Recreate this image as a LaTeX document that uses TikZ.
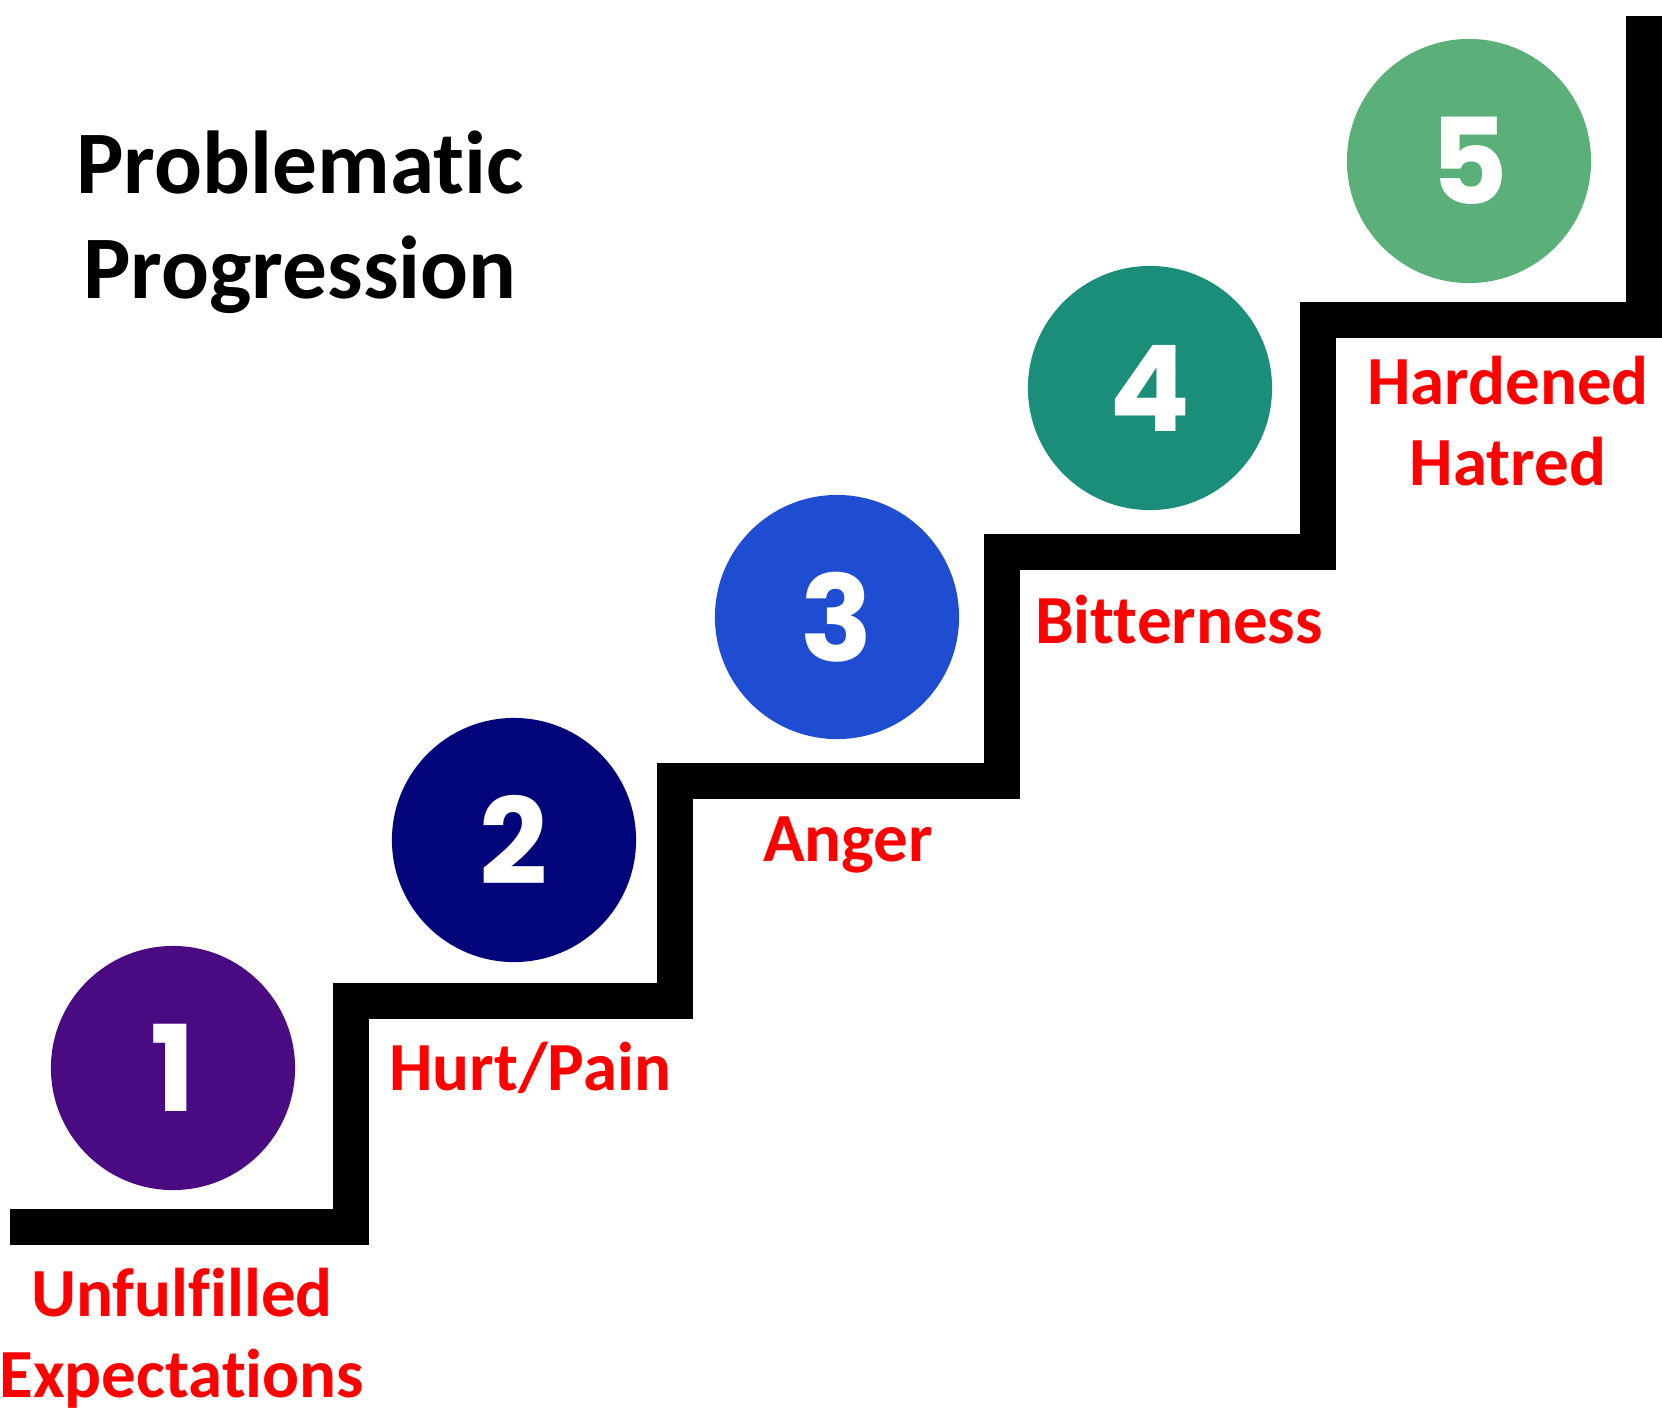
\documentclass[tikz,border=0pt]{standalone}
\usepackage{fontspec}
\setmainfont{Carlito}[Ligatures=NoCommon]
\newfontfamily\digitfont{Poppins}
\usetikzlibrary{positioning}
\definecolor{stepone}{HTML}{4A0A82}
\definecolor{steptwo}{HTML}{02057A}
\definecolor{stepthree}{HTML}{1E4DD2}
\definecolor{stepfour}{HTML}{1B8E7A}
\definecolor{stepfive}{HTML}{5BB07A}
\tikzstyle{stair}=[line width=0.36cm, line join=miter]
\tikzstyle{stepnum}=[circle, minimum size=2.44cm, inner sep=0pt, text=white, font=\digitfont\bfseries\fontsize{34}{34}\selectfont]
\tikzstyle{steplabel}=[text=red, align=center, font=\bfseries\fontsize{19.6}{23}\selectfont]
\tikzstyle{titlenode}=[align=center, font=\bfseries\fontsize{25.4}{30}\selectfont]

\begin{document}
\begin{tikzpicture}[x=0.01cm,y=-0.01cm]
\useasboundingbox (0,0) rectangle (1662,1411);
% corners of the stairs
\coordinate (c0) at (10,1227);
\coordinate (c1) at (351,1227);
\coordinate (c2) at (351,1001);
\coordinate (c3) at (675,1001);
\coordinate (c4) at (675,781);
\coordinate (c5) at (1002,781);
\coordinate (c6) at (1002,552);
\coordinate (c7) at (1318,552);
\coordinate (c8) at (1318,320);
\coordinate (c9) at (1644,320);
\coordinate (c10) at (1644,16);
\draw[stair] (c0) -- (c1) -- (c2) -- (c3) -- (c4) -- (c5) -- (c6) -- (c7) -- (c8) -- (c9) -- (c10);
% numbered circles
\node[stepnum, fill=stepone] (one) at (173,1068) {1};
\node[stepnum, fill=steptwo] (two) at (514,840) {2};
\node[stepnum, fill=stepthree] (three) at (837,617) {3};
\node[stepnum, fill=stepfour] (four) at (1150,388) {4};
\node[stepnum, fill=stepfive] (five) at (1469,161) {5};
% labels
\node[steplabel] (unfulfilled) at (182,1338) {Unfulfilled\\Expectations};
\node[steplabel] (hurt) at (530,1068) {Hurt/Pain};
\node[steplabel] (anger) at (848,845) {Anger};
\node[steplabel] (bitter) at (1179,620) {Bitterness};
\node[steplabel] (hatred) at (1508,421) {Hardened\\Hatred};
\node[titlenode] (title) at (300,222) {Problematic\\Progression};
\end{tikzpicture}
\end{document}
